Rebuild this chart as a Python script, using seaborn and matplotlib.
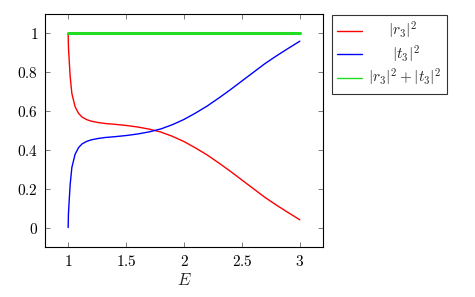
import matplotlib
matplotlib.use("Agg")
import matplotlib.pyplot as plt
import seaborn as sns
import pandas as pd
from matplotlib.ticker import FuncFormatter, FixedLocator
from matplotlib.lines import Line2D

# ---- data ----
E = [1.0, 1.002, 1.005, 1.009, 1.017, 1.032, 1.06, 1.09, 1.12, 1.16, 1.2, 1.26,
     1.32, 1.4, 1.5, 1.6, 1.7, 1.8, 1.9, 2.0, 2.1, 2.2, 2.3, 2.4, 2.5, 2.6,
     2.7, 2.8, 2.9, 3.0]
r3_sq = [1.0, 0.935, 0.90, 0.86, 0.78, 0.69, 0.622, 0.588, 0.569, 0.556, 0.548,
         0.541, 0.536, 0.532, 0.526, 0.518, 0.507, 0.492, 0.470, 0.443, 0.410,
         0.374, 0.333, 0.290, 0.245, 0.200, 0.155, 0.115, 0.077, 0.040]
t3_sq = [0.0, 0.065, 0.10, 0.14, 0.22, 0.31, 0.378, 0.412, 0.431, 0.444, 0.452,
         0.459, 0.464, 0.468, 0.474, 0.482, 0.493, 0.508, 0.530, 0.557, 0.590,
         0.626, 0.667, 0.710, 0.755, 0.800, 0.845, 0.885, 0.923, 0.960]
total_E = [1.0, 3.0]
total = [1.0, 1.0]

x_ticks = [1, 1.5, 2, 2.5, 3]
y_ticks = [0, 0.2, 0.4, 0.6, 0.8, 1]
labels = [r"$\hspace{1.5}|r_3|^2$", r"$\hspace{1.8}|t_3|^2$", r"$|r_3|^2+|t_3|^2$"]
colors = ["#ff0000", "#0000ff", "#22dd22"]

sns.set_theme(style="ticks")
plt.rcParams["font.family"] = ["DejaVu Serif"]
plt.rcParams["mathtext.fontset"] = "cm"

fig = plt.figure(figsize=(4.75, 2.97), dpi=100)
ax = fig.add_axes([45 / 475, 1 - 247 / 297, (323 - 45) / 475, (247 - 14) / 297])

df_r = pd.DataFrame({"E": E, "v": r3_sq})
df_t = pd.DataFrame({"E": E, "v": t3_sq})
df_s = pd.DataFrame({"E": total_E, "v": total})
sns.lineplot(data=df_r, x="E", y="v", color=colors[0], lw=1.0, ax=ax, legend=False, zorder=3)
sns.lineplot(data=df_t, x="E", y="v", color=colors[1], lw=1.0, ax=ax, legend=False, zorder=3)
sns.lineplot(data=df_s, x="E", y="v", color=colors[2], lw=2.2, ax=ax, legend=False, zorder=4)

ax.set_xlim(0.8, 3.2)
ax.set_ylim(-0.1, 1.1)
ax.xaxis.set_major_locator(FixedLocator(x_ticks))
ax.yaxis.set_major_locator(FixedLocator(y_ticks))
fmt = FuncFormatter(lambda v, p: "$%g$" % v)
ax.xaxis.set_major_formatter(fmt)
ax.yaxis.set_major_formatter(fmt)
ax.tick_params(direction="in", length=3.5, width=0.6, color="#666666",
               top=True, right=True, labelsize=11, pad=5, labelcolor="black")
for s in ax.spines.values():
    s.set_linewidth(0.8)
    s.set_color("black")
ax.set_xlabel("$E$", fontsize=12, labelpad=2)
ax.set_ylabel("")

handles = [Line2D([0], [0], color=c, lw=1.0) for c in colors]
leg = fig.legend(handles, labels, loc="upper left",
                 bbox_to_anchor=(332 / 475, 1 - 15 / 297),
                 bbox_transform=fig.transFigure, borderaxespad=0,
                 frameon=True, fancybox=False, edgecolor="black",
                 fontsize=11, handlelength=1.6, handletextpad=0.4,
                 labelspacing=0.15, borderpad=0.35)
leg.get_frame().set_linewidth(0.8)

fig.savefig("out.png", dpi=100)
